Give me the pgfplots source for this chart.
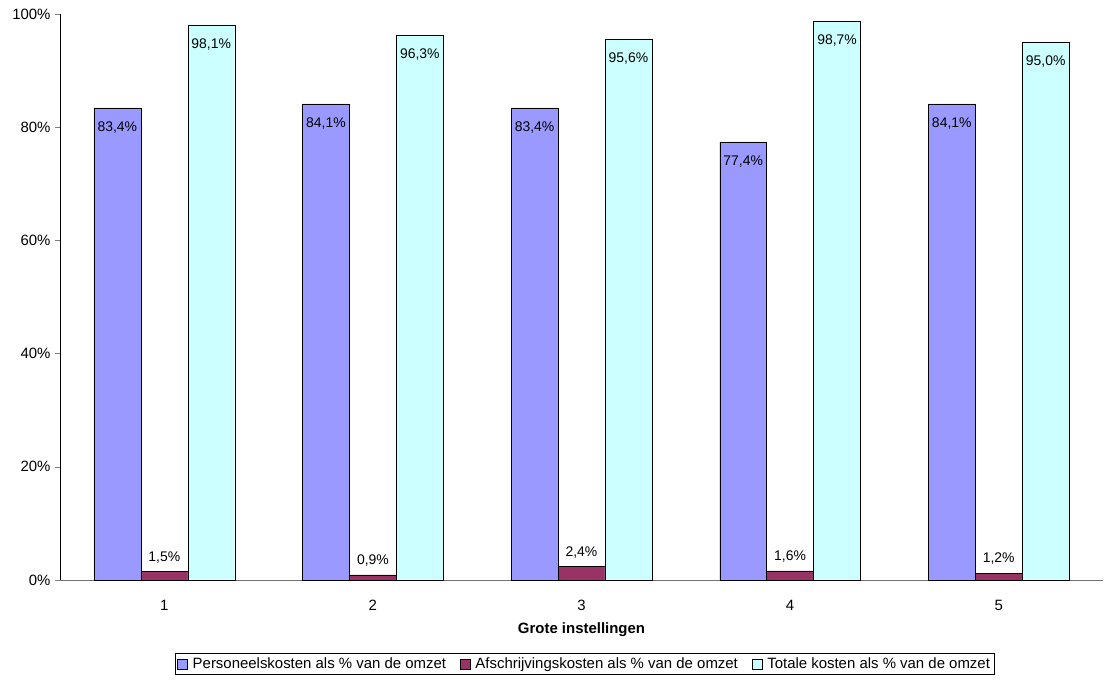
\documentclass[border=0pt]{standalone}
\usepackage{pgfplots}
\pgfplotsset{compat=1.18}
\usepackage{fontspec}
\setmainfont{Liberation Sans}
\definecolor{cblue}{HTML}{9999FF}
\definecolor{cred}{HTML}{993366}
\definecolor{ccyan}{HTML}{CCFFFF}
\begin{document}
\begin{tikzpicture}
\begin{axis}[
  at={(0,0)}, anchor=south west,
  scale only axis,
  width=1043bp, height=566bp,
  ybar=0pt, bar width=0.225,
  xmin=0.5, xmax=5.5,
  ymin=0, ymax=100,
  axis x line=bottom, axis y line=left,
  axis line style={-},
  x axis line style={draw=gray!90!black},
  xtick={1,2,3,4,5},
  xticklabels={1,2,3,4,5},
  major x tick style={draw=none},
  extra x ticks={0.5,1.5,2.5,3.5,4.5,5.5},
  extra x tick labels={},
  extra x tick style={tick style={draw=gray!90!black}, major tick length=6bp, xtick align=outside},
  ytick={0,20,40,60,80,100},
  yticklabel={\pgfmathprintnumber[assume math mode=true]{\tick}\%},
  ytick align=outside, major tick length=5bp,
  tick label style={font=\fontsize{15}{17}\selectfont},
  yticklabel style={xshift=-1bp},
  xticklabel style={yshift=-14bp},
  xlabel={\textbf{Grote instellingen}},
  x label style={at={(axis description cs:0.5,-0.0885)},anchor=center,font=\fontsize{15}{17}\selectfont},
  nodes near coords={\pgfmathprintnumber[fixed,fixed zerofill,precision=1,use comma,assume math mode=true]{\pgfplotspointmeta}\%},
  every node near coord/.append style={font=\fontsize{14}{16}\selectfont, black},
  legend columns=3,
  legend style={at={(axis description cs:0.503,-0.148)}, anchor=center, draw=black, font=\fontsize{15}{16}\selectfont, inner sep=2bp, /tikz/every even column/.append style={column sep=12bp}},
  legend image code/.code={\draw[#1, draw=black] (0bp,-5bp) rectangle (10bp,5bp); \path (13bp,0bp);},
  clip=false,
]
\addplot[fill=cblue, draw=black, every node near coord/.append style={anchor=north, yshift=-10bp}] coordinates {(1,83.4) (2,84.1) (3,83.4) (4,77.4) (5,84.1)};
\addplot[fill=cred, draw=black, every node near coord/.append style={anchor=south, yshift=5bp}] coordinates {(1,1.5) (2,0.9) (3,2.4) (4,1.6) (5,1.2)};
\addplot[fill=ccyan, draw=black, every node near coord/.append style={anchor=north, yshift=-10bp}] coordinates {(1,98.1) (2,96.3) (3,95.6) (4,98.7) (5,95.0)};
\legend{Personeelskosten als \% van de omzet, Afschrijvingskosten als \% van de omzet, Totale kosten als \% van de omzet}
\end{axis}
\pgfresetboundingbox
\path[use as bounding box] (-60bp,-101bp) rectangle (1045bp,580bp);
\end{tikzpicture}
\end{document}
